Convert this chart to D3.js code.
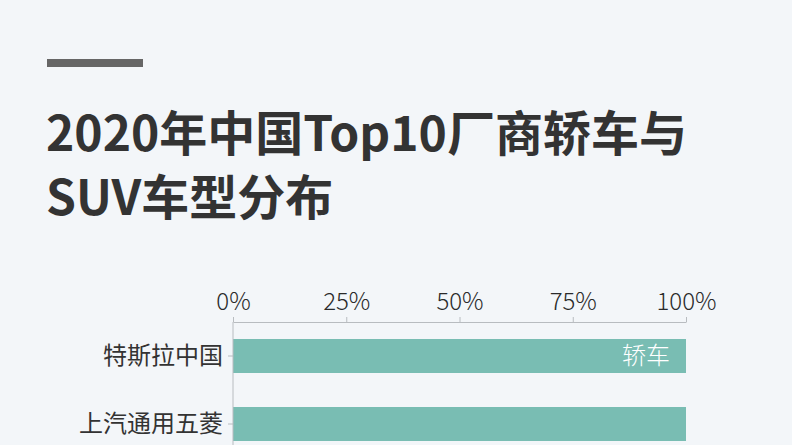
<!DOCTYPE html>
<html>
<head>
<meta charset="utf-8">
<script src="https://cdn.jsdelivr.net/npm/d3@7"></script>
<style>
  html, body { margin: 0; padding: 0; background: #f3f6f9; }
  svg { display: block; font-family: "Noto Sans CJK SC", "Noto Sans", sans-serif; }
  .axis text { fill: #2a2a2a; font-size: 24px; font-weight: 300; font-family: "Noto Sans CJK SC", sans-serif; }
  .y-axis text { font-weight: 400; fill: #333; }
  .axis path, .axis line { stroke: #b8bcc0; }
</style>
</head>
<body>
<svg id="chart"></svg>
<script>
// Data
const makers = ["特斯拉中国", "上汽通用五菱"];
const sedanShare = [100, 100];
const suvShare = [0, 0];
const seriesNames = ["轿车", "SUV"];
const xTicks = [0, 25, 50, 75, 100];
const titleLines = ["2020年中国Top10厂商轿车与", "SUV车型分布"];

// Configuration
const W = 792, H = 445;
const colors = { "轿车": "#79bdb3", "SUV": "#e8a87c" };

const svg = d3.select("#chart").attr("width", W).attr("height", H);

svg.append("rect").attr("width", W).attr("height", H).attr("fill", "#f3f6f9");

// decorative bar above title
svg.append("rect")
  .attr("x", 47).attr("y", 59).attr("width", 96).attr("height", 8)
  .attr("fill", "#666");

// title
svg.selectAll(".title")
  .data(titleLines)
  .join("text")
  .attr("class", "title")
  .attr("x", 46)
  .attr("y", (d, i) => 151 + i * 64)
  .attr("font-size", 48)
  .attr("font-weight", "bold")
  .attr("fill", "#333")
  .text(d => d);

// scales
const x = d3.scaleLinear().domain([0, 100]).range([233, 686]);
const y = d3.scaleBand()
  .domain(makers)
  .range([322, 322 + 68 * makers.length])
  .paddingInner(0.5)
  .paddingOuter(0.25);

// stacked data
const rows = makers.map((m, i) => ({ maker: m, "轿车": sedanShare[i], "SUV": suvShare[i] }));
const stacked = d3.stack().keys(seriesNames)(rows);

const bars = svg.append("g");
stacked.forEach(s => {
  bars.selectAll(null)
    .data(s)
    .join("rect")
    .attr("x", d => x(d[0]))
    .attr("y", d => y(d.data.maker))
    .attr("width", d => x(d[1]) - x(d[0]))
    .attr("height", y.bandwidth())
    .attr("fill", colors[s.key]);

  // series name only inside the first row
  const first = s[0];
  if (first[1] - first[0] > 0) {
    svg.append("text")
      .attr("x", x(first[1]) - 16)
      .attr("y", y(first.data.maker) + y.bandwidth() / 2)
      .attr("dy", "0.35em")
      .attr("text-anchor", "end")
      .attr("font-size", 24)
      .attr("font-weight", 300)
      .attr("fill", "#fff")
      .text(s.key);
  }
});

// top axis
svg.append("g")
  .attr("class", "axis")
  .attr("transform", "translate(0,322)")
  .call(d3.axisTop(x).tickValues(xTicks).tickFormat(d => d + "%").tickSize(5).tickSizeOuter(0).tickPadding(7));

// left axis
svg.append("g")
  .attr("class", "axis y-axis")
  .attr("transform", "translate(233,0)")
  .call(d3.axisLeft(y).tickSize(5).tickSizeOuter(0).tickPadding(5))
  .call(g => g.select(".domain").attr("d", `M0,322V${H}`));
</script>
</body>
</html>
